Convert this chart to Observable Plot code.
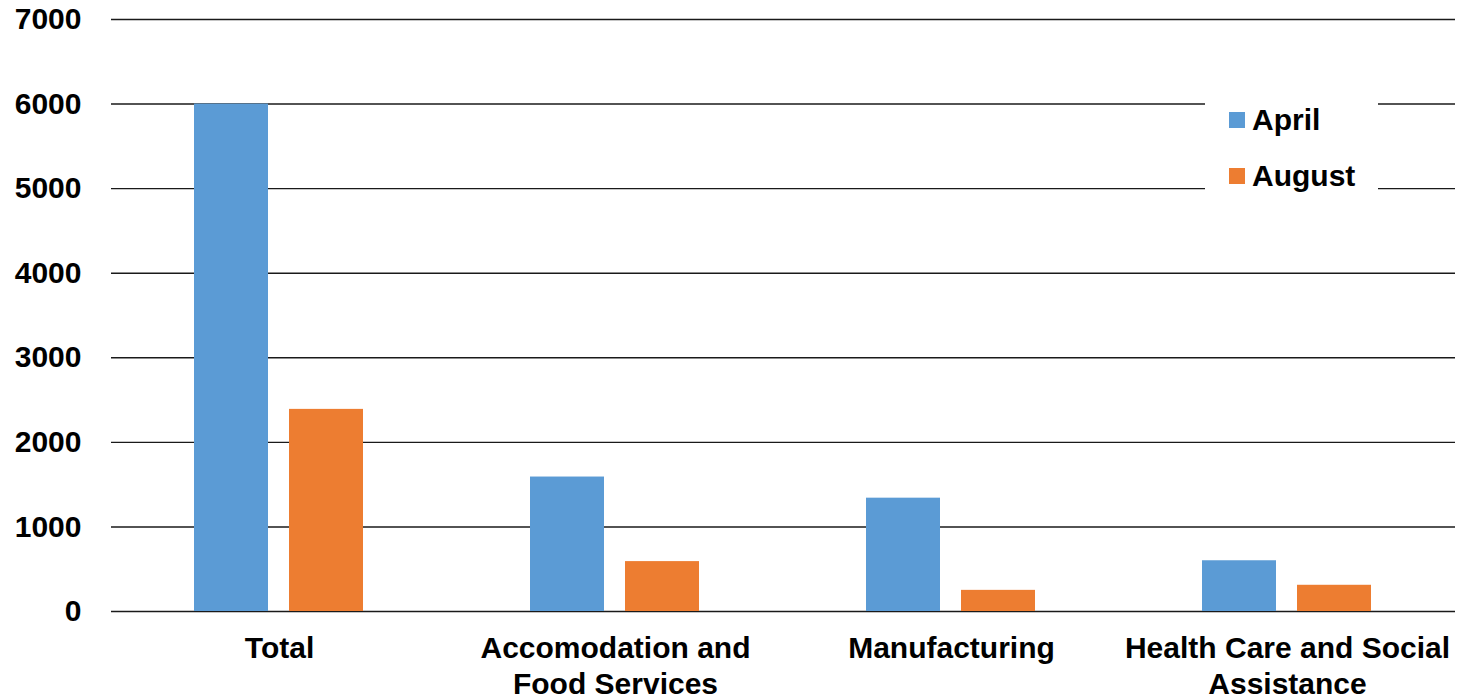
<!DOCTYPE html>
<html>
<head>
<meta charset="utf-8">
<script src="https://cdn.jsdelivr.net/npm/d3@7"></script>
<script src="https://cdn.jsdelivr.net/npm/@observablehq/plot@0.6"></script>
<style>
  body { margin: 0; background: #fff; font-family: "Liberation Sans", Arial, sans-serif; }
  #wrap { position: relative; width: 1462px; height: 698px; overflow: hidden; background: #fff; }
  #legend { position: absolute; left: 1205px; top: 97px; width: 173px; height: 100px; background: #fff; }
  .item { position: absolute; left: 24px; height: 34px; display: flex; align-items: center; font-size: 30px; font-weight: bold; color: #000; }
  .sw { width: 16px; height: 16px; margin-right: 7px; }
</style>
</head>
<body>
<div id="wrap"><div id="chart"></div><div id="legend"></div></div>
<script>
const categories = ["Total", "Accomodation and Food Services", "Manufacturing", "Health Care and Social Assistance"];
const categoryLabels = ["Total", "Accomodation and\nFood Services", "Manufacturing", "Health Care and Social\nAssistance"];
const series = ["April", "August"];
const aprilValues = [6000, 1590, 1340, 600];
const augustValues = [2390, 590, 250, 310];
const yTicks = [0, 1000, 2000, 3000, 4000, 5000, 6000, 7000];
const colors = ["#5B9BD5", "#ED7D31"];

const valuesBySeries = {April: aprilValues, August: augustValues};
const data = [];
categories.forEach((c, i) => series.forEach(s => data.push({category: c, series: s, value: valuesBySeries[s][i]})));

const chart = Plot.plot({
  width: 1462,
  height: 698,
  marginLeft: 110,
  marginRight: 6,
  marginTop: 19,
  marginBottom: 87,
  style: {fontFamily: "'Liberation Sans', Arial, sans-serif", fontSize: "30px", fontWeight: "bold", color: "#000", background: "#fff"},
  fx: {domain: categories, paddingInner: 0, paddingOuter: 0, label: null},
  x: {domain: series, paddingInner: 0.219, paddingOuter: 0.862, axis: null},
  y: {domain: [0, 7000], label: null},
  color: {domain: series, range: colors},
  marks: [
    Plot.ruleY(yTicks, {stroke: "#1a1a1a", strokeWidth: 1.4}),
    Plot.barY(data, {fx: "category", x: "series", y: "value", fill: "series", inset: 0}),
    Plot.axisY({ticks: yTicks, tickSize: 0, tickPadding: 30, label: null, tickFormat: d => String(d), fontSize: 30}),
    Plot.axisFx({anchor: "bottom", tickSize: 0, tickPadding: 22, label: null, lineHeight: 1.17, fontSize: 30,
                 tickFormat: d => categoryLabels[categories.indexOf(d)]})
  ]
});
document.getElementById("chart").appendChild(chart);

const legend = document.getElementById("legend");
series.forEach((s, i) => {
  const item = document.createElement("div");
  item.className = "item";
  item.style.top = (6 + i * 56) + "px";
  const sw = document.createElement("span");
  sw.className = "sw";
  sw.style.background = colors[i];
  item.appendChild(sw);
  item.appendChild(document.createTextNode(s));
  legend.appendChild(item);
});
</script>
</body>
</html>
